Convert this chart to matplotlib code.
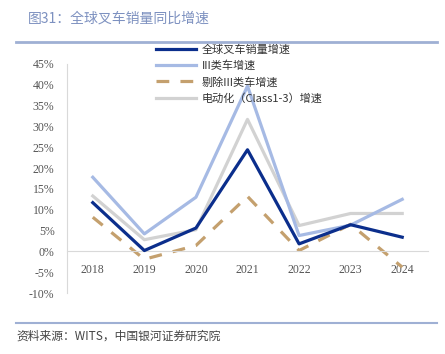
import matplotlib.pyplot as plt
import numpy as np

plt.rcParams['font.family'] = ['Noto Sans CJK SC', 'DejaVu Sans']

### data (yoy growth, %)
years = ['2018', '2019', '2020', '2021', '2022', '2023', '2024']
total = [11.7, 0.2, 5.6, 24.4, 1.8, 6.4, 3.4]
class3 = [17.8, 4.2, 13.0, 39.7, 3.8, 6.3, 12.5]
ex_class3 = [8.2, -1.9, 1.4, 13.2, 0.2, 6.5, -3.8]
electric = [13.3, 2.8, 5.2, 31.7, 6.2, 9.1, 9.1]

labels = ['全球叉车销量增速', 'III类车增速', '剔除III类车增速', '电动化（Class1-3）增速']

fig = plt.figure(figsize=(4.45, 3.54), dpi=100)
ax = fig.add_axes([67 / 445, 1 - 293 / 354, (428 - 67) / 445, (293 - 64) / 354])

x = np.arange(len(years))
ax.plot(x, total, color='#0b2e8c', lw=2.3, label=labels[0], zorder=4)
ax.plot(x, class3, color='#a6bae4', lw=2.3, label=labels[1], zorder=3)
ax.plot(x, ex_class3, color='#c4a06e', lw=2.3, dashes=(4, 3.5), label=labels[2], zorder=2)
ax.plot(x, electric, color='#d2d2d2', lw=2.3, label=labels[3], zorder=1)

# spines first (moving a spine resets the ticks)
ax.spines['top'].set_visible(False)
ax.spines['right'].set_visible(False)
ax.spines['left'].set_color('#d9d9d9')
ax.spines['bottom'].set_color('#d9d9d9')
ax.spines['bottom'].set_position(('data', 0))

ax.set_xlim(-0.5, 6.5)
ax.set_ylim(-10, 45)
ax.set_yticks(np.arange(-10, 46, 5))
ax.set_yticklabels([f'{v}%' for v in range(-10, 46, 5)])
ax.set_xticks(x)
ax.set_xticklabels(years)
ax.tick_params(axis='both', length=0, labelsize=8.5, labelcolor='#555555')
ax.tick_params(axis='x', pad=9)
ax.tick_params(axis='y', pad=9)
for lbl in ax.get_xticklabels() + ax.get_yticklabels():
    lbl.set_fontfamily('Liberation Serif')

leg = ax.legend(loc='upper left', bbox_to_anchor=(0.22, 1.13), frameon=False,
                fontsize=8, handlelength=3.6, labelspacing=0.5, handletextpad=0.5)
for t in leg.get_texts():
    t.set_color('#333333')

# header and footer
fig.text(28 / 445, 1 - 19 / 354, '图31：全球叉车销量同比增速', fontsize=10,
         color='#7d91c0', va='center')
fig.add_artist(plt.Line2D([16 / 445, 437 / 445], [1 - 42 / 354] * 2, color='#9fb0d4', lw=2))
fig.add_artist(plt.Line2D([16 / 445, 437 / 445], [1 - 323 / 354] * 2, color='#9fb0d4', lw=1.5))
fig.text(16 / 445, 1 - 336 / 354, '资料来源：WITS，中国银河证券研究院', fontsize=8.5,
         color='#444444', va='center', style='italic')

fig.savefig('out.png', dpi=100)
